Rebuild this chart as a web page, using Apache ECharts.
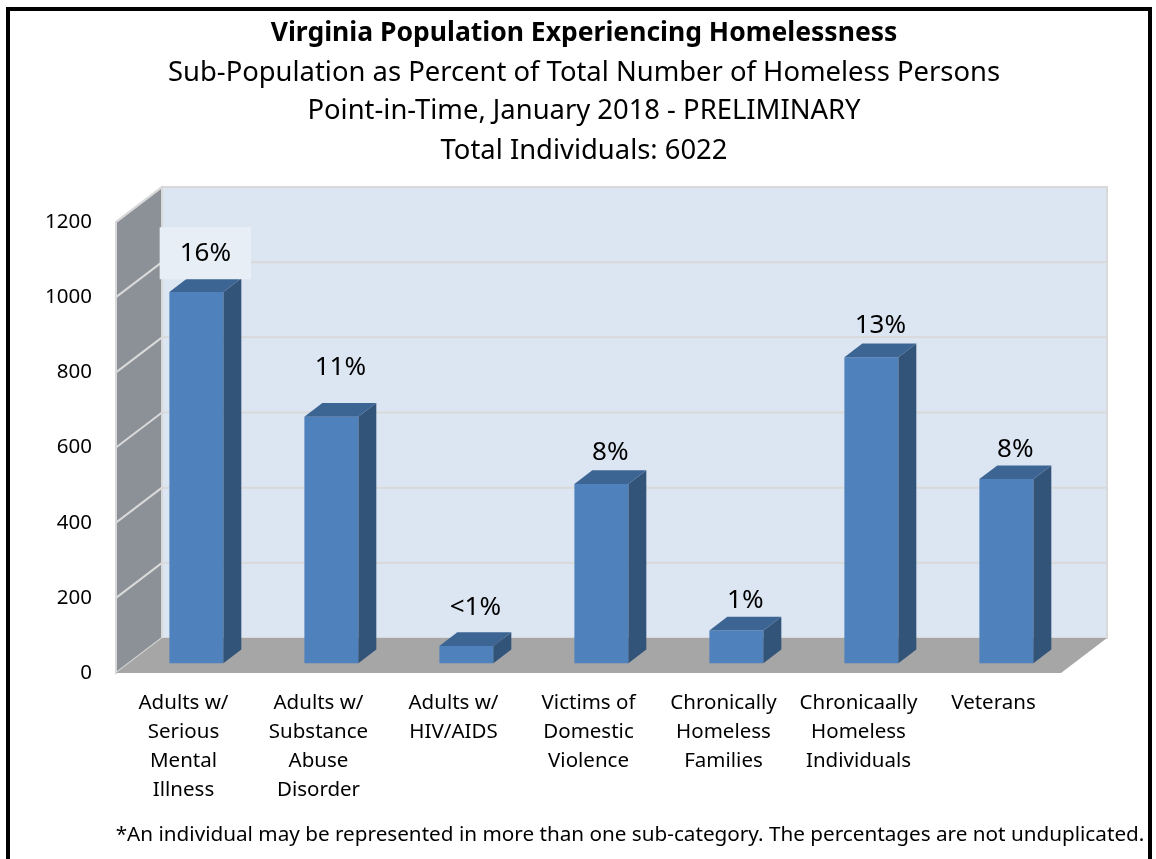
<!DOCTYPE html>
<html>
<head>
<meta charset="utf-8">
<title>Virginia Population Experiencing Homelessness</title>
<style>
  html, body { margin: 0; padding: 0; background: #fff; }
  #chart { width: 1156px; height: 859px; }
</style>
<script src="https://cdn.jsdelivr.net/npm/echarts@6/dist/echarts.min.js"></script>
</head>
<body>
<div id="chart"></div>
<script>
// sub-populations (x axis)
const categories = [
  "Adults w/\nSerious\nMental\nIllness",
  "Adults w/\nSubstance\nAbuse\nDisorder",
  "Adults w/\nHIV/AIDS",
  "Victims of\nDomestic\nViolence",
  "Chronically\nHomeless\nFamilies",
  "Chronicaally\nHomeless\nIndividuals",
  "Veterans",
];
// number of persons
const persons = [988, 656, 46, 477, 87, 814, 490];
// percent of the 6022 total, shown above each bar
const percentLabels = ["16%", "11%", "<1%", "8%", "1%", "13%", "8%"];
const yTicks = [0, 200, 400, 600, 800, 1000, 1200];

const FONT = '"Noto Sans", "Open Sans", sans-serif';

// 3d look: offset of the back wall from the front plane
const DX = 46, DY = -35;
// bar placement inside that depth (fractions)
const BAR_FRONT = 0.28, BAR_DEPTH = 0.39, BAR_WIDTH = 0.4;
// how far each % label sits above the bar top
const labelLift = [25, 35, 25, 18, 16, 18, 16];

const chart = echarts.init(document.getElementById("chart"));

function renderWalls(params, api) {
  const cs = params.coordSys;
  const L = cs.x, R = cs.x + cs.width, T = cs.y, B = cs.y + cs.height;
  const children = [];
  // back wall
  children.push({
    type: "polygon",
    shape: { points: [[L + DX, T + DY], [R + DX, T + DY], [R + DX, B + DY], [L + DX, B + DY]] },
    style: { fill: "#dce6f2", stroke: "#d9d9d9", lineWidth: 2 },
  });
  // left side wall
  children.push({
    type: "polygon",
    shape: { points: [[L, B], [L, T], [L + DX, T + DY], [L + DX, B + DY]] },
    style: { fill: "#8c9198", stroke: "#d9d9d9", lineWidth: 2 },
  });
  // floor
  children.push({
    type: "polygon",
    shape: { points: [[L, B], [L + DX, B + DY], [R + DX, B + DY], [R, B]] },
    style: { fill: "#a6a6a6" },
  });
  // gridlines on both walls
  yTicks.forEach((t) => {
    if (t === 0) return;
    const y = api.coord([0, t])[1];
    children.push({
      type: "line",
      shape: { x1: L + DX, y1: y + DY, x2: R + DX, y2: y + DY },
      style: { stroke: "#d9d9d9", lineWidth: 2 },
    });
    children.push({
      type: "line",
      shape: { x1: L, y1: y, x2: L + DX, y2: y + DY },
      style: { stroke: "#d9d9d9", lineWidth: 2 },
    });
  });
  return { type: "group", children };
}

function renderBar(params, api) {
  const idx = api.value(0);
  const base = api.coord([idx, 0]);
  const top = api.coord([idx, api.value(1)]);
  const bw = api.size([1, 0])[0] * BAR_WIDTH;
  const x0 = base[0] - bw / 2 + DX * BAR_FRONT;
  const x1 = x0 + bw;
  const yb = base[1] + DY * BAR_FRONT;
  const yt = top[1] + DY * BAR_FRONT;
  const bx = DX * BAR_DEPTH, by = DY * BAR_DEPTH;
  const first = params.dataIndex === 0;
  return {
    type: "group",
    children: [
      {
        type: "polygon",
        shape: { points: [[x0, yb], [x0, yt], [x1, yt], [x1, yb]] },
        style: { fill: "#4f81bd" },
      },
      {
        type: "polygon",
        shape: { points: [[x1, yb], [x1, yt], [x1 + bx, yt + by], [x1 + bx, yb + by]] },
        style: { fill: "#335479" },
      },
      {
        type: "polygon",
        shape: { points: [[x0, yt], [x1, yt], [x1 + bx, yt + by], [x0 + bx, yt + by]] },
        style: { fill: "#3d6594" },
      },
      {
        type: "text",
        style: {
          text: percentLabels[params.dataIndex],
          x: x0 + bw / 2 + bx / 2,
          y: yt + by - labelLift[params.dataIndex],
          align: "center",
          verticalAlign: "middle",
          font: "26px " + FONT,
          fill: "#000",
          backgroundColor: first ? "#e8eef6" : "transparent",
          padding: first ? [13, 20, 13, 20] : 0,
        },
      },
    ],
  };
}

chart.setOption({
  animation: false,
  grid: { left: 116, top: 222, width: 945, height: 451 },
  xAxis: {
    type: "category",
    data: categories,
    axisLine: { show: false },
    axisTick: { show: false },
    axisLabel: {
      interval: 0,
      margin: 16,
      color: "#000",
      fontFamily: FONT,
      fontSize: 20.5,
      lineHeight: 29,
      verticalAlign: "top",
    },
  },
  yAxis: {
    type: "value",
    min: yTicks[0],
    max: yTicks[yTicks.length - 1],
    interval: yTicks[1] - yTicks[0],
    axisLine: { show: false },
    axisTick: { show: false },
    splitLine: { show: false },
    axisLabel: {
      color: "#000",
      fontFamily: FONT,
      fontSize: 20.5,
      margin: 24,
      formatter: (v) => String(v),
    },
  },
  graphic: [
    {
      type: "rect",
      shape: { x: 8, y: 9, width: 1142, height: 900 },
      style: { fill: "none", stroke: "#000", lineWidth: 4 },
    },
    {
      type: "text",
      x: 584, y: 33,
      style: {
        text: "Virginia Population Experiencing Homelessness",
        font: "bold 26.5px " + FONT, fill: "#000", align: "center", verticalAlign: "middle",
      },
    },
    {
      type: "text",
      x: 584, y: 73,
      style: {
        text: "Sub-Population as Percent of Total Number of Homeless Persons",
        font: "27.4px " + FONT, fill: "#000", align: "center", verticalAlign: "middle",
      },
    },
    {
      type: "text",
      x: 584, y: 111,
      style: {
        text: "Point-in-Time, January 2018 - PRELIMINARY",
        font: "27.4px " + FONT, fill: "#000", align: "center", verticalAlign: "middle",
      },
    },
    {
      type: "text",
      x: 584, y: 151,
      style: {
        text: "Total Individuals: 6022",
        font: "27.4px " + FONT, fill: "#000", align: "center", verticalAlign: "middle",
      },
    },
    {
      type: "text",
      x: 630, y: 835,
      style: {
        text: "*An individual may be represented in more than one sub-category. The percentages are not unduplicated.",
        font: "20.7px " + FONT, fill: "#000", align: "center", verticalAlign: "middle",
      },
    },
  ],
  series: [
    {
      type: "custom",
      silent: true,
      z: 1,
      renderItem: renderWalls,
      data: [[0, 0]],
    },
    {
      type: "custom",
      silent: true,
      z: 2,
      renderItem: renderBar,
      encode: { x: 0, y: 1 },
      data: persons.map((v, i) => [i, v]),
    },
  ],
});
</script>
</body>
</html>
